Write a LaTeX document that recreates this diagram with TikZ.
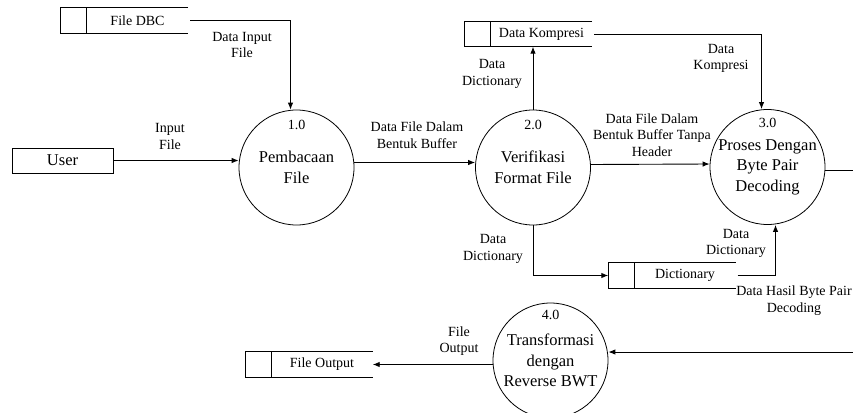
\documentclass[tikz,border=0pt]{standalone}
\usepackage{fontspec}
\setmainfont{Liberation Serif}
\usetikzlibrary{arrows.meta,positioning}

\begin{document}
\begin{tikzpicture}[
  x=1pt, y=-1pt,
  proc/.style={
    draw,
    circle,
    line width=0.8pt,
    minimum size=115pt,
    inner sep=0pt,
    align=center,
    font=\fontsize{16.5}{20.5}\selectfont
  },
  num/.style={
    inner sep=0pt,
    font=\fontsize{14}{16}\selectfont
  },
  entity/.style={
    draw,
    line width=0.8pt,
    minimum width=101pt,
    minimum height=25pt,
    font=\fontsize{16.5}{20}\selectfont
  },
  store/.style={
    minimum width=101pt,
    minimum height=25pt,
    inner sep=0pt,
    font=\fontsize{14}{16}\selectfont
  },
  lbl/.style={
    align=center,
    inner sep=0pt,
    font=\fontsize{14}{16.5}\selectfont
  },
  flow/.style={-{Latex[length=7pt,width=5.5pt]}, line width=0.9pt}
]

\useasboundingbox (0,0) rectangle (853,412);
\clip (0,0) rectangle (853,412);

% --------------------
% Entity and data stores
% --------------------
\node[entity] (user) at (62.5,160.5) {User};
\node[store] (dbc) at (137.5,20.5) {File DBC};
\node[store] (komp) at (541.5,34) {Data Kompresi};
\node[store] (dict) at (685,275.5) {Dictionary};
\node[store] (fout) at (322,364.5) {File Output};

\foreach \s in {dbc,komp,dict,fout}
  \draw[line width=0.8pt] (\s.north east) -- ([xshift=-26pt]\s.north west)
    -- ([xshift=-26pt]\s.south west) -- (\s.south east)
    (\s.north west) -- (\s.south west);

% --------------------
% Processes
% --------------------
\node[proc] (p1) at (296.5,167.5) {Pembacaan\\File};
\node[proc] (p2) at (533,167.5) {Verifikasi\\Format File};
\node[proc] (p3) at (767.5,167) {Proses Dengan\\Byte Pair\\Decoding};
\node[proc] (p4) at (550.5,360.5) {Transformasi\\dengan\\Reverse BWT};

\node[num, below=10pt of p1.north] (n1) {1.0};
\node[num, below=10pt of p2.north] (n2) {2.0};
\node[num, below=9pt of p3.north] (n3) {3.0};
\node[num, below=7pt of p4.north] (n4) {4.0};

% --------------------
% Flows
% --------------------
\coordinate (out3) at (860,170);
\coordinate (in4) at (860,352);

\draw[flow] (user) -- (user -| p1.west);
\draw[flow, shorten <=2pt] (dbc.east) -| ([xshift=-6pt]p1.north);
\draw[flow] ([yshift=5pt]p1.east) -- ([yshift=5pt]p2.west);
\draw[flow] (p2.north) -- (p2.north |- komp.south);
\draw[flow, shorten <=2pt] (komp.east) -| ([xshift=-6pt]p3.north);
\draw[flow] ([yshift=3pt]p2.east) -- ([yshift=3pt]p3.west);
\draw[flow] (p2.south) |- ([xshift=-26pt]dict.west);
\draw[flow, shorten <=2pt] (dict.east) -| ([xshift=8pt]p3.south);
\draw[line width=0.9pt] ([yshift=-3pt]p3.east) -- (out3);
\draw[flow] (in4) -- (in4 -| p4.east);
\draw[flow] (p4.west |- fout) -- (fout.east);

% --------------------
% Labels
% --------------------
\node[lbl] (l1) at (170,136.5) {Input\\File};
\node[lbl] (l2) at (242,45) {Data Input\\File};
\node[lbl] (l3) at (417,135) {Data File Dalam\\Bentuk Buffer};
\node[lbl] (l4) at (492,74) {Data\\Dictionary};
\node[lbl] (l5) at (721,58.5) {Data\\Kompresi};
\node[lbl] (l6) at (652,135) {Data File Dalam\\Bentuk Buffer Tanpa\\Header};
\node[lbl] (l7) at (493,249) {Data\\Dictionary};
\node[lbl] (l8) at (736,243.5) {Data\\Dictionary};
\node[lbl] (l9) at (794,300.5) {Data Hasil Byte Pair\\Decoding};
\node[lbl] (l10) at (459,341) {File\\Output};

\end{tikzpicture}
\end{document}
